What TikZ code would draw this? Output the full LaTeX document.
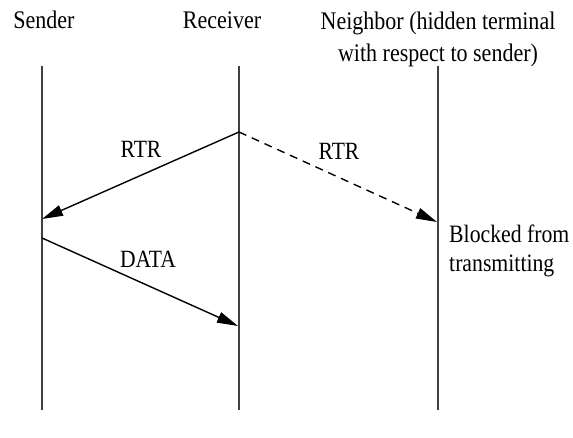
\documentclass[tikz,border=0pt]{standalone}
\usepackage{fontspec}
\setmainfont[FakeStretch=0.87]{Liberation Serif}
\usetikzlibrary{arrows.meta}

\begin{document}
\begin{tikzpicture}[x=1pt,y=-1pt]
    \tikzset{party/.style = {font=\fontsize{25.3}{32}\selectfont, inner sep=0pt, anchor=base}}
    \tikzset{lifeline/.style = {draw=black!75, line width=1.6pt}}
    \tikzset{msg/.style = {draw=black, line width=1.4pt, -{Triangle[length=21pt,width=11pt]}}}
    \tikzset{lbl/.style = {font=\fontsize{24.8}{29}\selectfont, inner sep=0pt, anchor=base}}
    \useasboundingbox (0,0) rectangle (573,438);

    % headers
    \node[party] (sender) at (44,29) {Sender};
    \node[party] (receiver) at (222,29) {Receiver};
    \node[party, align=center] (neighbor) at (438,62)
        {Neighbor (hidden terminal\\with respect to sender)};

    % lifelines
    \coordinate (s1) at (42,66);   \coordinate (s2) at (42,410);
    \coordinate (r1) at (239,66);  \coordinate (r2) at (239,410);
    \coordinate (n1) at (438,66);  \coordinate (n2) at (438,410);
    \draw[lifeline] (s1) -- (s2);
    \draw[lifeline] (r1) -- (r2);
    \draw[lifeline] (n1) -- (n2);

    % messages
    \coordinate (rtrA) at (239,132);  \coordinate (rtrB) at (42,219);
    \coordinate (dataA) at (42,238);  \coordinate (dataB) at (238,326);
    \coordinate (rtrC) at (437,222);
    \draw[msg] (rtrA) -- (rtrB);
    \draw[msg] (dataA) -- (dataB);
    \draw[msg, dash pattern=on 8pt off 6pt] (rtrA) -- (rtrC);

    \node[lbl] (rtr1) at (141,158) {RTR};
    \node[lbl] (data) at (148,268) {DATA};
    \node[lbl] (rtr2) at (339,160) {RTR};
    \node[lbl, font=\fontsize{25}{29}\selectfont, anchor=base west, align=left] (blocked) at (449,272)
        {Blocked from\\transmitting};
\end{tikzpicture}
\end{document}
